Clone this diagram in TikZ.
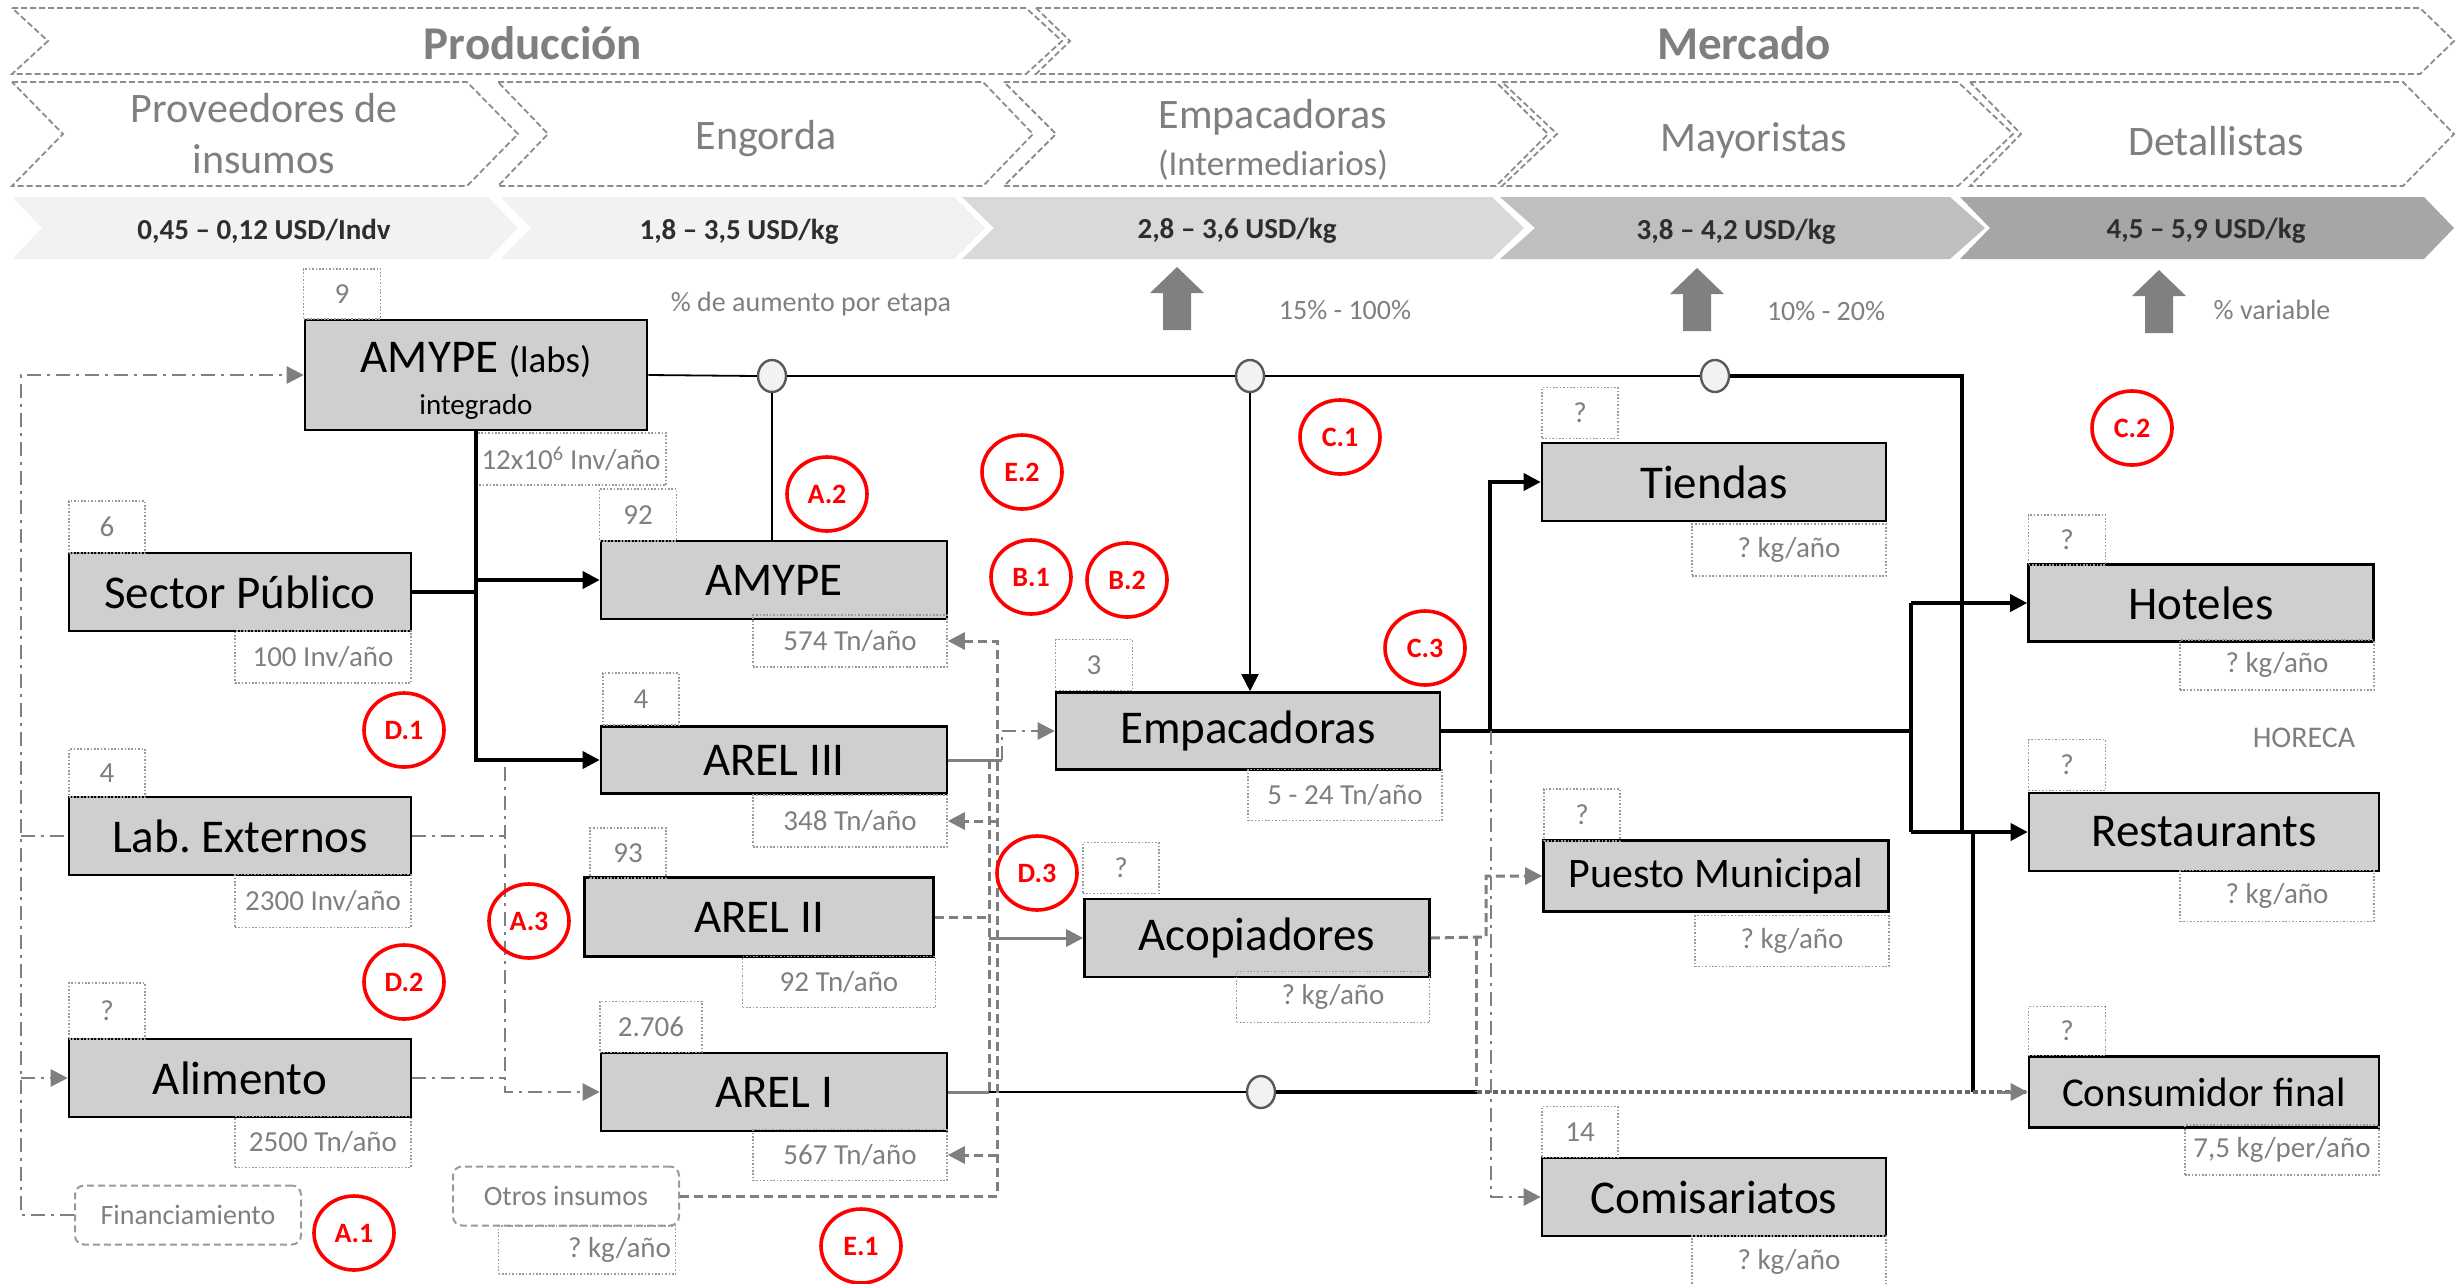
\documentclass[tikz,border=0pt]{standalone}
\usepackage{fontspec}
\setmainfont{Carlito}
\usetikzlibrary{arrows.meta,shapes.geometric}
\definecolor{boxfill}{HTML}{D0CECE}
\definecolor{txtgray}{HTML}{7F7F7F}
\definecolor{lngray}{HTML}{7F7F7F}
\definecolor{dotgray}{HTML}{9A9A9A}
\definecolor{chevline}{HTML}{8C8C8C}
\definecolor{cPa}{HTML}{F2F2F2}
\definecolor{cPc}{HTML}{D9D9D9}
\definecolor{cPd}{HTML}{BFBFBF}
\definecolor{cPe}{HTML}{A6A6A6}
\definecolor{uparr}{HTML}{808080}
\definecolor{circfill}{HTML}{F2F2F2}
\definecolor{circline}{HTML}{595959}
\definecolor{pricetxt}{HTML}{2E2E2E}
\definecolor{dotline}{HTML}{666666}
\newcommand\mychev[6]{\path[#6] (#1,#4) -- (#2,#4) -- ({#2+#3},{(#4+#5)/2}) -- (#2,#5) -- (#1,#5) -- ({#1+#3},{(#4+#5)/2}) -- cycle;}
\newcommand\myuparrow[3]{\fill[uparr] ({#1-14},#3) -- ({#1-14},{#2+26}) -- ({#1-27},{#2+26}) -- (#1,#2) -- ({#1+27},{#2+26}) -- ({#1+14},{#2+26}) -- ({#1+14},#3) -- cycle;}
\begin{document}
\frenchspacing
\begin{tikzpicture}[x=1pt,y=-1pt,
  chevtop/.style={draw=chevline, line width=1.8pt, dash pattern=on 6pt off 3pt, fill=white},
  stage/.style={text=txtgray, font=\fontsize{42}{51}\selectfont, inner sep=0pt},
  stagebold/.style={text=txtgray, font=\bfseries\fontsize{47}{50}\selectfont, inner sep=0pt},
  price/.style={text=pricetxt, font=\bfseries\fontsize{29}{32}\selectfont, inner sep=0pt},
  lbl/.style={text=txtgray, font=\fontsize{28}{30}\selectfont, inner sep=0pt},
  actor/.style={draw=black, line width=2.6pt, fill=boxfill, inner sep=0pt, text=black, font=\fontsize{47}{50}\selectfont},
  val/.style={draw=dotgray, line width=1.6pt, dash pattern=on 1.6pt off 1.8pt, inner sep=0pt, text=txtgray, font=\fontsize{29}{32}\selectfont},
  rbox/.style={draw=dotgray, line width=2pt, dash pattern=on 7pt off 4pt, rounded corners=9pt, inner sep=0pt, text=txtgray, font=\fontsize{28}{30}\selectfont},
  redc/.style={ellipse, draw=red, line width=3.6pt, minimum width=80pt, minimum height=74pt, inner sep=0pt, text=red, font=\bfseries\fontsize{28}{30}\selectfont},
  junc/.style={ellipse, draw=circline, line width=2.4pt, fill=circfill, minimum width=28pt, minimum height=32pt, inner sep=0pt},
  thick/.style={draw=black, line width=3.6pt},
  thin/.style={draw=black, line width=1.8pt},
  gsolid/.style={draw=lngray, line width=3pt},
  gdash/.style={draw=lngray, line width=3pt, dash pattern=on 9pt off 5pt},
  gdd/.style={draw=lngray, line width=2.6pt, dash pattern=on 14pt off 6pt on 3pt off 6pt},
  gdot/.style={draw=dotline, line width=4.5pt, dash pattern=on 5pt off 3pt},
  tip/.style={-{Triangle[length=17pt,width=17pt]}},
]
\useasboundingbox (0,0) rectangle (2464,1283);
% ---------- header row 1
\mychev{12}{1026}{36}{8}{74}{chevtop}
\mychev{1036}{2420}{34}{8}{74}{chevtop}
\node[stagebold] (prod) at (533,43) {Producción};
\node[stagebold] (merc) at (1744,43) {Mercado};
% ---------- header row 2
\mychev{12}{467}{51}{82}{186}{chevtop}
\mychev{498}{983}{50}{82}{186}{chevtop}
\mychev{1004}{1496}{52}{82}{186}{chevtop}
\mychev{1502}{1958}{55}{82}{186}{chevtop}
\mychev{1970}{2403}{51}{82}{186}{chevtop}
\node[stage, align=center] (prov) at (264,134) {Proveedores de\\insumos};
\node[stage] (eng) at (766,139) {Engorda};
\node[stage, align=center] (empst) at (1273,140) {Empacadoras\\[-4pt]{\fontsize{35}{40}\selectfont(Intermediarios)}};
\node[stage] (may) at (1754,140) {Mayoristas};
\node[stage] (det) at (2216,141) {Detallistas};
% ---------- price row
\mychev{12}{488}{30}{197}{259}{fill=cPa}
\mychev{500}{954}{31}{197}{259}{fill=cPa}
\mychev{962}{1492}{32}{197}{259}{fill=cPc}
\mychev{1500}{1950}{35}{197}{259}{fill=cPd}
\mychev{1960}{2424}{30}{197}{259}{fill=cPe}
\node[price] (pr1) at (264,231) {0,45 – 0,12 USD/Indv};
\node[price] (pr2) at (739,232) {1,8 – 3,5 USD/kg};
\node[price] (pr3) at (1237,231) {2,8 – 3,6 USD/kg};
\node[price] (pr4) at (1736,232) {3,8 – 4,2 USD/kg};
\node[price] (pr5) at (2206,231) {4,5 – 5,9 USD/kg};
% ---------- up arrows and percentages
\myuparrow{1177}{267}{330}
\myuparrow{1697}{268}{331}
\myuparrow{2159}{270}{333}
\node[lbl] (pct) at (811,304) {\% de aumento por etapa};
\node[lbl] (pcta) at (1345,310) {15\% - 100\%};
\node[lbl] (pctb) at (1826,311) {10\% - 20\%};
\node[lbl] (pctc) at (2272,310) {\% variable};
\node[lbl, font=\fontsize{30}{32}\selectfont] (horeca) at (2304,738) {HORECA};
% ---------- main boxes
\node[actor, minimum width=342pt, minimum height=110pt, align=center] (labs) at (476,375) {\rule{0pt}{42pt}AMYPE {\fontsize{37}{40}\selectfont(labs)}\\[-8pt]{\fontsize{29}{32}\selectfont integrado}};
\node[actor, minimum width=342pt, minimum height=78pt] (sp) at (240,592) {Sector Público};
\node[actor, minimum width=342pt, minimum height=78pt] (lab) at (240,836) {Lab. Externos};
\node[actor, minimum width=342pt, minimum height=78pt] (ali) at (240,1078) {Alimento};
\node[actor, minimum width=346pt, minimum height=78pt] (amype) at (774,580) {AMYPE};
\node[actor, minimum width=346pt, minimum height=67pt] (arel3) at (774,760) {AREL III};
\node[actor, minimum width=349pt, minimum height=79pt] (arel2) at (759,917) {AREL II};
\node[actor, minimum width=346pt, minimum height=78pt] (arel1) at (774,1092) {AREL I};
\node[actor, minimum width=384pt, minimum height=77pt] (emp) at (1248,731) {Empacadoras};
\node[actor, minimum width=345pt, minimum height=78pt] (acop) at (1257,938) {Acopiadores};
\node[actor, minimum width=344pt, minimum height=78pt] (tie) at (1714,482) {Tiendas};
\node[actor, minimum width=345pt, minimum height=71pt, font=\fontsize{42}{46}\selectfont] (pm) at (1716,876) {Puesto Municipal};
\node[actor, minimum width=344pt, minimum height=78pt] (com) at (1714,1197) {Comisariatos};
\node[actor, minimum width=345pt, minimum height=77pt] (hot) at (2201,603) {Hoteles};
\node[actor, minimum width=350pt, minimum height=78pt] (rest) at (2204,832) {Restaurants};
\node[actor, minimum width=350pt, minimum height=71pt, font=\fontsize{41}{44}\selectfont] (cons) at (2204,1092) {Consumidor final};
% ---------- value boxes
\node[val, minimum width=77pt, minimum height=50pt] (n9) at (342,294) {9};
\node[val, minimum width=190pt, minimum height=52pt] (v12) at (571,459) {12x10\textsuperscript{6} Inv/año};
\node[val, minimum width=76pt, minimum height=52pt] (n6) at (107,527) {6};
\node[val, minimum width=176pt, minimum height=52pt] (v100) at (323,657) {100 Inv/año};
\node[val, minimum width=77pt, minimum height=52pt] (n92) at (638,515) {92};
\node[val, minimum width=194pt, minimum height=52pt] (v574) at (850,641) {574 Tn/año};
\node[val, minimum width=76pt, minimum height=52pt] (n4a) at (641,699) {4};
\node[val, minimum width=194pt, minimum height=52pt] (v348) at (850,821) {348 Tn/año};
\node[val, minimum width=76pt, minimum height=48pt] (n4b) at (107,773) {4};
\node[val, minimum width=176pt, minimum height=53pt] (v2300) at (323,901) {2300 Inv/año};
\node[val, minimum width=76pt, minimum height=50pt] (n93) at (628,853) {93};
\node[val, minimum width=193pt, minimum height=51pt] (v92) at (839,982) {92 Tn/año};
\node[val, minimum width=76pt, minimum height=56pt] (nqa) at (107,1011) {?};
\node[val, minimum width=176pt, minimum height=51pt] (v2500) at (323,1142) {2500 Tn/año};
\node[val, minimum width=102pt, minimum height=51pt] (n2706) at (651,1027) {2.706};
\node[val, minimum width=194pt, minimum height=51pt] (v567) at (850,1155) {567 Tn/año};
\node[rbox, minimum width=226pt, minimum height=59pt] (fin) at (188,1215) {Financiamiento};
\node[rbox, minimum width=226pt, minimum height=59pt] (otros) at (566,1196) {Otros insumos};
\node[val, minimum width=177pt, minimum height=48pt] (vot) at (587,1250) {\makebox[168pt][r]{? kg/año}};
\node[val, minimum width=77pt, minimum height=51pt] (n3) at (1094,665) {3};
\node[val, minimum width=194pt, minimum height=51pt] (v524) at (1345,795) {5 - 24 Tn/año};
\node[val, minimum width=76pt, minimum height=51pt] (nqac) at (1121,868) {?};
\node[val, minimum width=193pt, minimum height=51pt] (vac) at (1333,997) {? kg/año};
\node[val, minimum width=76pt, minimum height=51pt] (nqt) at (1580,413) {?};
\node[val, minimum width=194pt, minimum height=52pt] (vt) at (1789,550) {? kg/año};
\node[val, minimum width=76pt, minimum height=52pt] (nqp) at (1582,815) {?};
\node[val, minimum width=194pt, minimum height=51pt] (vp) at (1792,941) {? kg/año};
\node[val, minimum width=76pt, minimum height=51pt] (n14) at (1580,1132) {14};
\node[val, minimum width=194pt, minimum height=52pt] (vc) at (1789,1262) {? kg/año};
\node[val, minimum width=77pt, minimum height=50pt] (nqh) at (2067,540) {?};
\node[val, minimum width=194pt, minimum height=50pt] (vh) at (2277,665) {? kg/año};
\node[val, minimum width=77pt, minimum height=51pt] (nqr) at (2067,765) {?};
\node[val, minimum width=194pt, minimum height=51pt] (vr) at (2277,896) {? kg/año};
\node[val, minimum width=77pt, minimum height=49pt] (nqc) at (2067,1031) {?};
\node[val, minimum width=194pt, minimum height=50pt] (vcf) at (2282,1150) {7,5 kg/per/año};
% ---------- junction circles
\node[junc] (c1) at (772,376) {};
\node[junc] (c2) at (1250,376) {};
\node[junc] (c3) at (1715,376) {};
\node[junc] (c4) at (1261,1092) {};
% ---------- coordinates
\coordinate (jR) at (1962,376);
\coordinate (jRb) at (1962,832);
\coordinate (jH) at (1911,603);
\coordinate (jHb) at (1911,832);
\coordinate (jC) at (1973,832);
\coordinate (jCb) at (1973,1092);
\coordinate (jT) at (1490,731);
\coordinate (jV) at (476,760);
\coordinate (colT) at (989,760);
\coordinate (colB) at (989,1092);
\coordinate (oT) at (997,641);
\coordinate (oB) at (997,1196);
\coordinate (eA) at (1002,760);
\coordinate (eB) at (1002,731);
\coordinate (aA) at (1486,937);
\coordinate (aB) at (1486,876);
\coordinate (aC) at (1476,937);
\coordinate (aD) at (1476,1092);
\coordinate (cmT) at (1491,731);
\coordinate (cmB) at (1491,1197);
\coordinate (dotS) at (1477,1092);
\coordinate (fL) at (21,1215);
\coordinate (fT) at (21,375);
\coordinate (lV) at (505,767);
\coordinate (lB) at (505,1092);
% ---------- black connectors
\draw[thin] (labs.east) -- (c1.west);
\draw[thin] (c1.east) -- (c2.west);
\draw[thin] (c2.east) -- (c3.west);
\draw[thick] (c3.east) -- (jR) -- (jRb);
\draw[thin] (c1.south) -- (c1.south |- amype.north);
\draw[thin, tip] (c2.south) -- (c2.south |- emp.north);
\draw[thick, tip] (labs.south) -- (jV) -- (arel3.west);
\draw[thick, tip] (labs.south |- amype.west) -- (amype.west);
\draw[thick] (sp.east) -- (labs.south |- sp.east);
\draw[thick] (emp.east) -- (jH |- emp.east);
\draw[thick] (jH) -- (jHb);
\draw[thick, tip] (jH) -- (hot.west);
\draw[thick, tip] (jHb) -- (rest.west);
\draw[thick, tip] (jT) -- (jT |- tie.west) -- (tie.west);
\draw[thick] (jC) -- (jCb);
% ---------- bottom line to consumidor
\draw[gsolid] (arel1.east) -- (colB);
\draw[thin] (colB) -- (c4.west);
\draw[thick] (c4.east) -- (dotS);
\draw[gdot] (dotS) -- (cons.west);
\draw[draw=lngray, line width=3pt, tip] ([xshift=-30pt]cons.west) -- (cons.west);
% ---------- gray connectors
\draw[gdash, tip] (otros.east) -- (oB) -- (oT) -- (v574.east);
\draw[gdash, tip] (oT |- v348.east) -- (v348.east);
\draw[gdash, tip] (oT |- v567.east) -- (v567.east);
\draw[gsolid] (arel3.east) -- (eA);
\draw[gdash] (arel2.east) -- (colT |- arel2.east);
\draw[gdash] (colT) -- (colB);
\draw[gdd, tip] (eA) -- (eB) -- (emp.west);
\draw[gsolid, tip] (colT |- acop.west) -- (acop.west);
\draw[gdash, tip] (acop.east) -- (aA) -- (aB) -- (pm.west);
\draw[gdash] (aC) -- (aD);
\draw[gdd, tip] (cmT) -- (cmB) -- (com.west);
\draw[gdd, tip] (fin.west) -- (fL) -- (fT) -- (labs.west);
\draw[gdd] (fL |- lab.west) -- (lab.west);
\draw[gdd, tip] (fL |- ali.west) -- (ali.west);
\draw[gdd] (lab.east) -- (lV |- lab.east);
\draw[gdd] (ali.east) -- (lV |- ali.east);
\draw[gdd, tip] (lV) -- (lB) -- (arel1.west);
% ---------- red markers
\node[redc] (mA2) at (827,494) {A.2};
\node[redc] (mE2) at (1022,472) {E.2};
\node[redc] (mB1) at (1031,577) {B.1};
\node[redc] (mB2) at (1127,580) {B.2};
\node[redc] (mC1) at (1340,437) {C.1};
\node[redc] (mC2) at (2132,428) {C.2};
\node[redc] (mC3) at (1425,648) {C.3};
\node[redc] (mD1) at (404,730) {D.1};
\node[redc] (mA3) at (529,921) {A.3};
\node[redc] (mD2) at (404,982) {D.2};
\node[redc] (mD3) at (1037,873) {D.3};
\node[redc] (mA1) at (354,1233) {A.1};
\node[redc] (mE1) at (861,1246) {E.1};
\end{tikzpicture}
\end{document}
